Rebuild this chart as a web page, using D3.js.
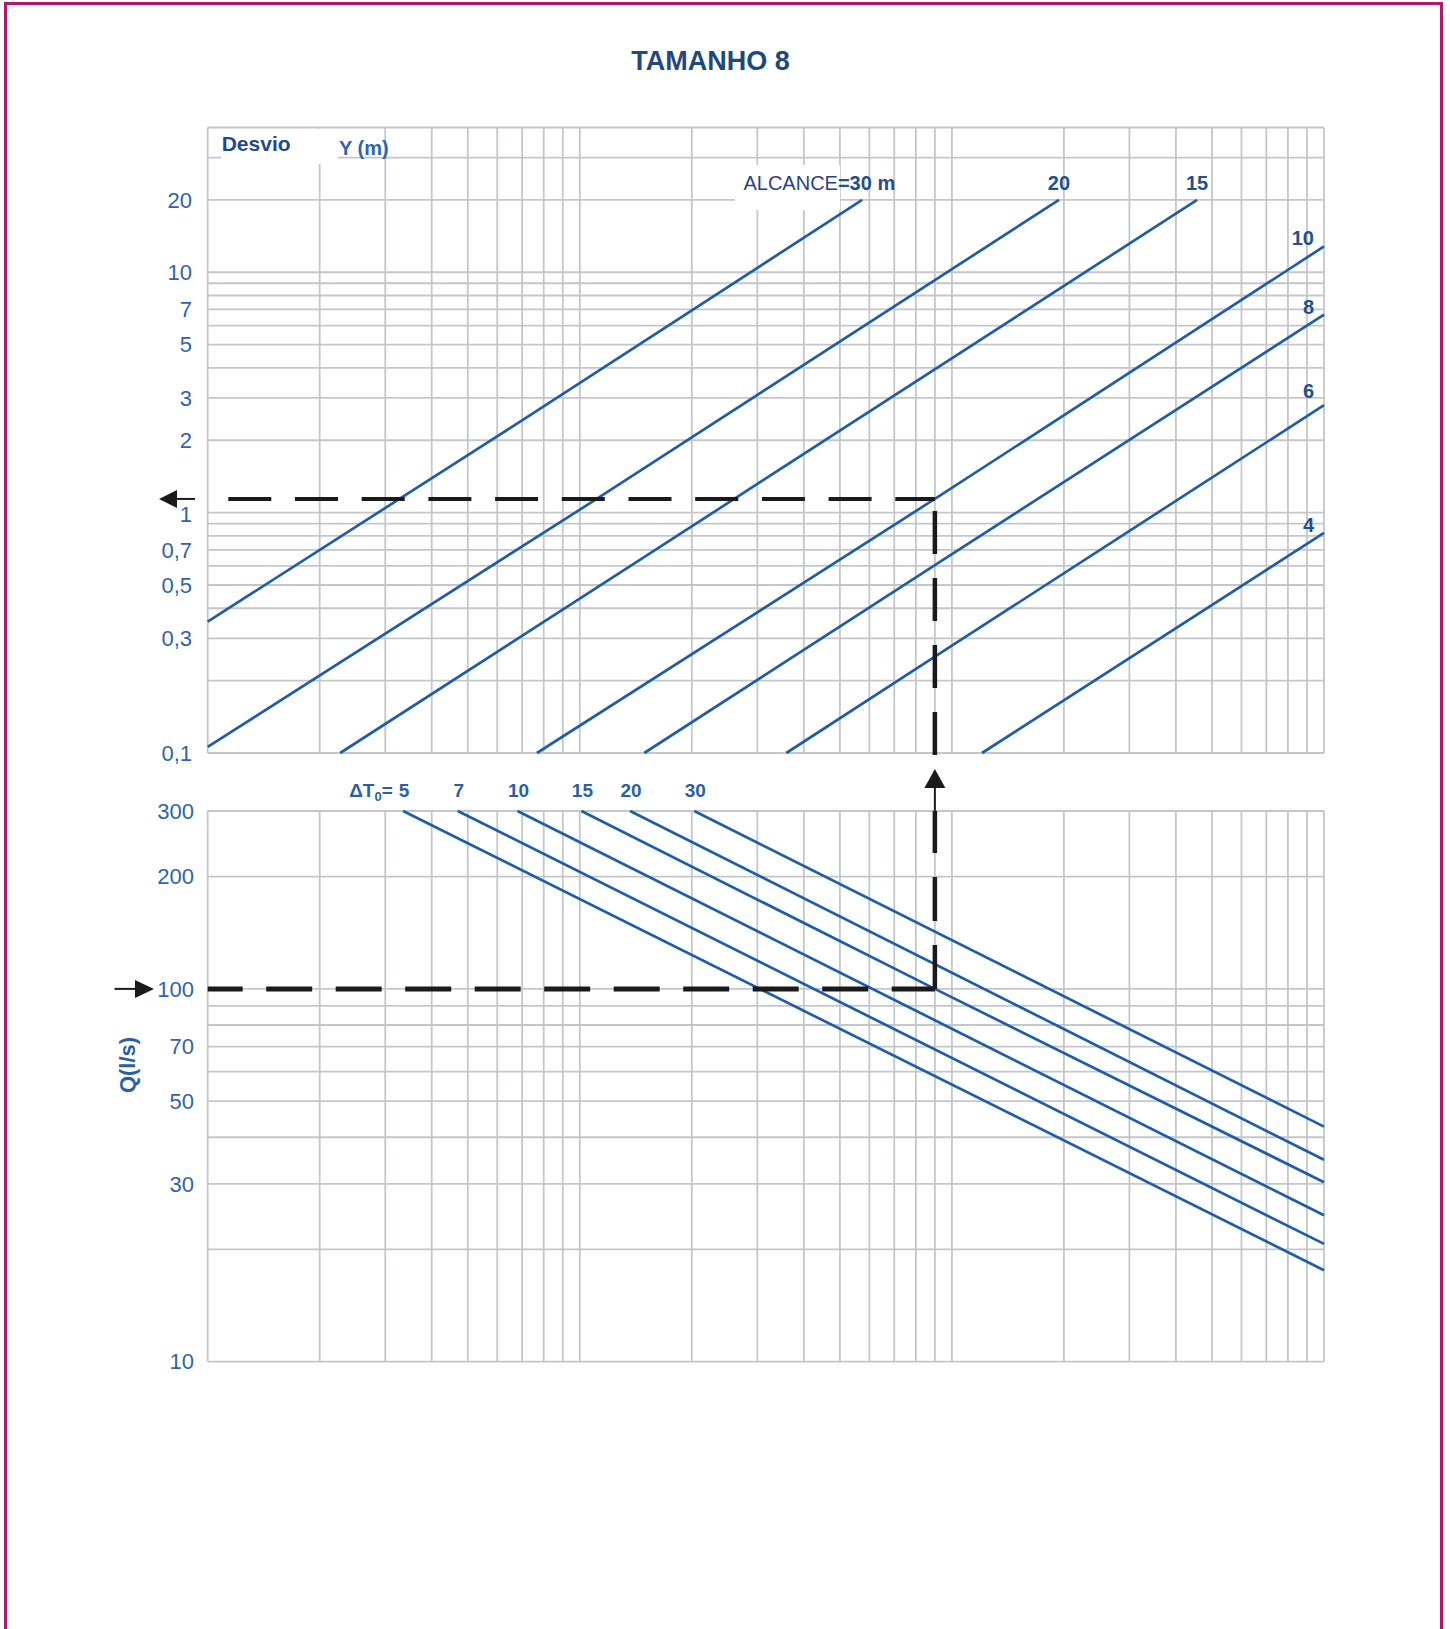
<!DOCTYPE html>
<html>
<head>
<meta charset="utf-8">
<script src="https://cdn.jsdelivr.net/npm/d3@7"></script>
<style>
	body { margin: 0; background: #fff; }
	svg { display: block; font-family: 'Liberation Sans', Arial, Helvetica, sans-serif; }
</style>
</head>
<body>
<div id="chart"></div>
<script>

// grid values (log paper)
var xGrid = [1, 2, 3, 4, 5, 6, 7, 8, 9, 10, 20, 30, 40, 50, 60, 70, 80, 90, 100, 200, 300, 400, 500, 600, 700, 800, 900, 1000];
var desvioGrid = [0.1, 0.2, 0.3, 0.4, 0.5, 0.6, 0.7, 0.8, 0.9, 1, 2, 3, 4, 5, 6, 7, 8, 9, 10, 20, 30, 40];
var desvioLabels = [20, 10, 7, 5, 3, 2, 1, 0.7, 0.5, 0.3, 0.1];
var caudalGrid = [10, 20, 30, 40, 50, 60, 70, 80, 90, 100, 200, 300];
var caudalLabels = [300, 200, 100, 70, 50, 30, 10];

// upper panel: desvio Y (m) for each alcance
var alcanceNames = ['30', '20', '15', '10', '8', '6', '4'];
var alcanceSeries = [
	[[1, 0.352], [7.03, 2.43], [57.4, 20]],
	[[1, 0.106], [11.1, 1.14], [194, 20]],
	[[2.27, 0.1], [14.5, 0.636], [456, 20]],
	[[7.67, 0.1], [90, 1.14], [1000, 12.8]],
	[[14.9, 0.1], [90, 0.605], [1000, 6.66]],
	[[35.9, 0.1], [90, 0.2515], [1000, 2.8]],
	[[120.5, 0.1], [1000, 0.823]]
];

// lower panel: caudal Q (l/s) for each delta T0
var deltaTNames = ['5', '7', '10', '15', '20', '30'];
var deltaTSeries = [
	[[3.35, 300], [1000, 17.6]],
	[[4.70, 300], [1000, 20.7]],
	[[6.80, 300], [1000, 24.7]],
	[[10.1, 300], [90, 100], [1000, 30.3]],
	[[13.65, 300], [1000, 34.8]],
	[[20.3, 300], [1000, 42.7]]
];

// worked example (dashed path)
var exampleX = 90;
var exampleQ = 100;
var exampleY = 1.14;

var width = 1450, height = 1629;
var gridColor = '#c5c6ca';
var curveColor = '#1f5da6';
var labelColor = '#3063ad';
var darkBlue = '#1f4b87';

var x = d3.scaleLog().domain([1, 1000]).range([207.7, 1324]);
var yUp = d3.scaleLog().domain([0.1, 40]).range([753, 127.5]);
var yLow = d3.scaleLog().domain([10, 300]).range([1361.7, 811]);

var svg = d3.select('#chart').append('svg')
		.attr('width', width)
		.attr('height', height);

// page frame
svg.append('rect')
	.attr('x', 5.5).attr('y', 3.5)
	.attr('width', 1436).attr('height', 1660)
	.attr('fill', 'none')
	.attr('stroke', '#b0186e')
	.attr('stroke-width', 3);

svg.append('text')
	.attr('x', 710.6).attr('y', 70)
	.attr('text-anchor', 'middle')
	.style('font-size', '27px')
	.style('font-weight', 'bold')
	.attr('fill', '#1f497d')
	.text('TAMANHO 8');

var fmt = function(v) { return String(v).replace('.', ','); };

var drawGrid = function(y, yVals) {
	var g = svg.append('g');
	var top = y.range()[1], bottom = y.range()[0];
	g.selectAll('line.v').data(xGrid).enter().append('line')
		.attr('x1', function(d) { return x(d); })
		.attr('x2', function(d) { return x(d); })
		.attr('y1', top).attr('y2', bottom)
		.attr('stroke', gridColor).attr('stroke-width', 1.8);
	g.selectAll('line.h').data(yVals).enter().append('line')
		.attr('x1', x(1)).attr('x2', x(1000))
		.attr('y1', function(d) { return y(d); })
		.attr('y2', function(d) { return y(d); })
		.attr('stroke', gridColor).attr('stroke-width', 1.8);
};

drawGrid(yUp, desvioGrid);
drawGrid(yLow, caudalGrid);

// white label boxes over the grid
svg.append('rect').attr('x', 221).attr('y', 129).attr('width', 117).attr('height', 35).attr('fill', '#fff');
svg.append('rect').attr('x', 735).attr('y', 165).attr('width', 105).attr('height', 45).attr('fill', '#fff');

// axis labels
svg.append('g').selectAll('text').data(desvioLabels).enter().append('text')
	.attr('x', 192)
	.attr('y', function(d) { return yUp(d) + (d == 1 ? 2 : 0); })
	.attr('dy', '0.35em')
	.attr('text-anchor', 'end')
	.style('font-size', '22px')
	.attr('fill', labelColor)
	.text(fmt);

svg.append('g').selectAll('text').data(caudalLabels).enter().append('text')
	.attr('x', 194)
	.attr('y', function(d) { return yLow(d); })
	.attr('dy', '0.35em')
	.attr('text-anchor', 'end')
	.style('font-size', '22px')
	.attr('fill', labelColor)
	.text(fmt);

svg.append('text')
	.attr('x', 221.7).attr('y', 151)
	.style('font-size', '21px').style('font-weight', 'bold')
	.attr('fill', darkBlue)
	.text('Desvio');

svg.append('text')
	.attr('x', 339).attr('y', 155)
	.style('font-size', '20px').style('font-weight', 'bold')
	.attr('fill', labelColor)
	.text('Y (m)');

svg.append('text')
	.attr('transform', 'translate(135,1065) rotate(-90)')
	.attr('text-anchor', 'middle')
	.style('font-size', '22px').style('font-weight', 'bold')
	.attr('fill', '#2b5fa8')
	.text('Q(l/s)');

// curves
var lineUp = d3.line()
		.x(function(d) { return x(d[0]); })
		.y(function(d) { return yUp(d[1]); });

var lineLow = d3.line()
		.x(function(d) { return x(d[0]); })
		.y(function(d) { return yLow(d[1]); });

svg.append('g').selectAll('path').data(alcanceSeries).enter().append('path')
	.attr('d', lineUp)
	.attr('fill', 'none')
	.attr('stroke', curveColor)
	.attr('stroke-width', 2.7);

svg.append('g').selectAll('path').data(deltaTSeries).enter().append('path')
	.attr('d', lineLow)
	.attr('fill', 'none')
	.attr('stroke', curveColor)
	.attr('stroke-width', 2.7);

// alcance labels
var alcLabels = svg.append('g')
		.style('font-size', '20px')
		.style('font-weight', 'bold')
		.attr('fill', '#22508f');

alcanceSeries.forEach(function(s, i) {
	var end = s[s.length - 1];
	var ex = x(end[0]), ey = yUp(end[1]);
	if (i == 0) {
		var t = alcLabels.append('text')
			.attr('x', ex + 33).attr('y', ey - 10)
			.attr('text-anchor', 'end');
		t.append('tspan').style('font-weight', 'normal').attr('fill', '#283f8c').text('ALCANCE');
		t.append('tspan').text('=' + alcanceNames[i] + ' m');
	} else if (end[0] < 1000) {
		alcLabels.append('text')
			.attr('x', ex).attr('y', ey - 10)
			.attr('text-anchor', 'middle')
			.text(alcanceNames[i]);
	} else {
		alcLabels.append('text')
			.attr('x', ex - 10).attr('y', ey - (i == 5 ? 7 : 1))
			.attr('text-anchor', 'end')
			.text(alcanceNames[i]);
	}
});

// delta T labels
var dtLabels = svg.append('g')
		.style('font-size', '19px')
		.style('font-weight', 'bold')
		.attr('fill', '#2b5fa5');

deltaTSeries.forEach(function(s, i) {
	var sx = x(s[0][0]), sy = yLow(s[0][1]) - 14;
	if (i == 0) {
		var t = dtLabels.append('text')
			.attr('x', sx - 5).attr('y', sy)
			.attr('text-anchor', 'end');
		t.append('tspan').text('\u0394T');
		t.append('tspan').attr('dy', 4).style('font-size', '13px').text('0');
		t.append('tspan').attr('dy', -4).text('=\u00a0');
	}
	dtLabels.append('text')
		.attr('x', sx + 1).attr('y', sy)
		.attr('text-anchor', 'middle')
		.text(deltaTNames[i]);
});

// worked example: dashed path and arrows
var dash = svg.append('g').attr('stroke', '#1a1a1a').attr('fill', 'none');
var cx = x(exampleX), cyUp = yUp(exampleY), cyLow = yLow(exampleQ);

dash.append('line')
	.attr('x1', x(1) + 20.6).attr('x2', cx)
	.attr('y1', cyUp).attr('y2', cyUp)
	.attr('stroke-width', 4)
	.attr('stroke-dasharray', '43,23.7');

dash.append('line')
	.attr('x1', cx).attr('x2', cx)
	.attr('y1', yUp(0.1) + 2).attr('y2', cyUp)
	.attr('stroke-width', 4.5)
	.attr('stroke-dasharray', '43,24');

dash.append('line')
	.attr('x1', x(1)).attr('x2', cx)
	.attr('y1', cyLow).attr('y2', cyLow)
	.attr('stroke-width', 5)
	.attr('stroke-dasharray', '46,23.5')
	.attr('stroke-dashoffset', 11);

dash.append('line')
	.attr('x1', cx).attr('x2', cx)
	.attr('y1', cyLow).attr('y2', yLow(300))
	.attr('stroke-width', 4.5)
	.attr('stroke-dasharray', '44,24');

var arrows = svg.append('g').attr('fill', '#1a1a1a').attr('stroke', '#1a1a1a');

// left arrow on desvio
arrows.append('line').attr('x1', 176).attr('x2', 195).attr('y1', cyUp).attr('y2', cyUp).attr('stroke-width', 2);
arrows.append('path').attr('stroke', 'none')
	.attr('d', 'M159,' + cyUp + 'L177,' + (cyUp - 9) + 'L177,' + (cyUp + 9) + 'Z');

// right arrow on caudal
arrows.append('line').attr('x1', 114.5).attr('x2', 136).attr('y1', cyLow).attr('y2', cyLow).attr('stroke-width', 2);
arrows.append('path').attr('stroke', 'none')
	.attr('d', 'M154,' + cyLow + 'L135,' + (cyLow - 9) + 'L135,' + (cyLow + 9) + 'Z');

// up arrow between panels
var topLow = yLow(300);
arrows.append('line').attr('x1', cx).attr('x2', cx).attr('y1', topLow - 24).attr('y2', topLow).attr('stroke-width', 2);
arrows.append('path').attr('stroke', 'none')
	.attr('d', 'M' + cx + ',' + (topLow - 42) + 'L' + (cx + 10.5) + ',' + (topLow - 23) + 'L' + (cx - 10.5) + ',' + (topLow - 23) + 'Z');

</script>
</body>
</html>
